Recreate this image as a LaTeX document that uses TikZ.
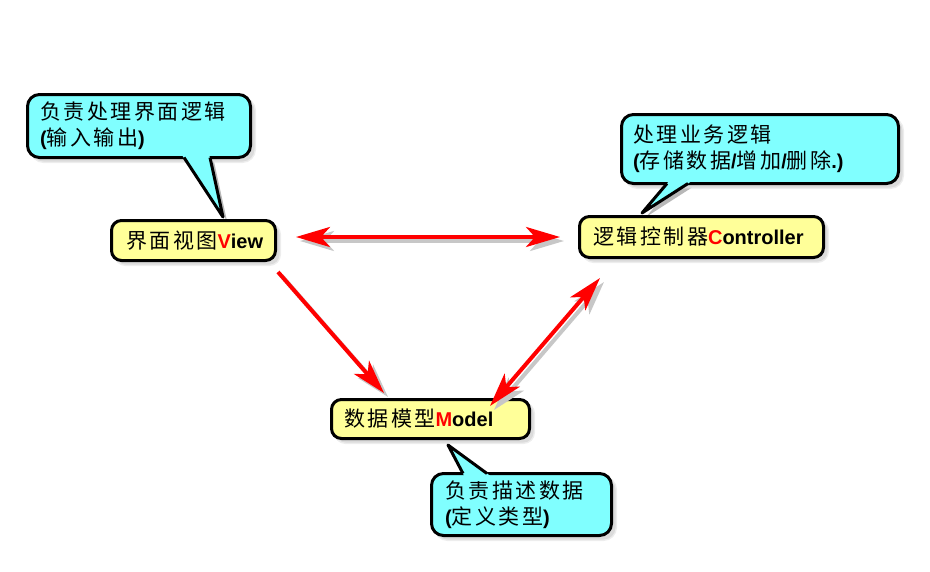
\documentclass[tikz,border=0pt]{standalone}
\usepackage{fontspec}
\setmainfont{Liberation Sans Bold}
\newfontfamily\cjk{Noto Sans CJK SC}[LetterSpace=12,Scale=1.05]
\usetikzlibrary{arrows.meta,shadows,calc}
\definecolor{boxyellow}{RGB}{255,255,153}
\definecolor{notecyan}{RGB}{128,255,255}
\definecolor{linkred}{RGB}{255,0,0}

\begin{document}
\begin{tikzpicture}[x=1pt,y=-1pt,
  >={Stealth[length=34pt,width=20pt,inset=9pt]},
  txt/.style={font=\fontsize{20}{26}\selectfont},
  softshadow/.style={drop shadow={shadow xshift=4pt,shadow yshift=-4pt,fill=black!28,draw=black!14,line width=3pt}},
  mvcbox/.style={draw=black,line width=3pt,rounded corners=10pt,fill=boxyellow,softshadow,inner ysep=0pt,align=left,txt},
  note/.style={draw=black,line width=3pt,rounded corners=12pt,fill=notecyan,softshadow,inner ysep=0pt,align=left,txt},
  tailfill/.style={fill=notecyan},
  tailedge/.style={draw=black,line width=3pt,line join=round},
  tailshadow/.style={fill=black!28},
  link/.style={draw=linkred,line width=4pt},
  linkshadow/.style={draw=black!22,line width=4pt,transform canvas={xshift=4pt,yshift=-4pt}}]

\useasboundingbox (0,0) rectangle (930,571);

% shadows of the callout tails
\fill[tailshadow,shift={(4,4)}] (184,157.5) -- (223,217) -- (210,157.5) -- cycle;
\fill[tailshadow,shift={(4,4)}] (667,183.5) -- (642,213) -- (688,183.5) -- cycle;
\fill[tailshadow,shift={(4,4)}] (463,473.5) -- (448,445) -- (487,473.5) -- cycle;

% callouts
\node[note,minimum width=223pt,minimum height=63pt,text width=198pt,inner xsep=12.5pt] (noteV) at (139,126)
  {{\cjk 负责处理界面逻辑}\\({\cjk 输入输出})};
\node[note,minimum width=277pt,minimum height=69pt,text width=254pt,inner xsep=11.5pt] (noteC) at (760,149)
  {{\cjk 处理业务逻辑}\\({\cjk 存储数据}/{\cjk 增加}/{\cjk 删除}.)};
\node[note,minimum width=180pt,minimum height=62pt,text width=153pt,inner xsep=13.5pt] (noteM) at (521.5,504.5)
  {{\cjk 负责描述数据}\\({\cjk 定义类型})};

% the three MVC parts
\node[mvcbox,minimum width=164pt,minimum height=40pt,text width=135pt,inner xsep=14.5pt] (view) at (193.5,240.5)
  {{\cjk 界面视图}\textcolor{linkred}{V}iew};
\node[mvcbox,minimum width=244pt,minimum height=41pt,text width=217pt,inner xsep=13.5pt] (ctrl) at (701.5,237)
  {{\cjk 逻辑控制器}\textcolor{linkred}{C}ontroller};
\node[mvcbox,minimum width=198pt,minimum height=39pt,text width=173pt,inner xsep=12.5pt] (model) at (430.5,419)
  {{\cjk 数据模型}\textcolor{linkred}{M}odel};

% callout tails
\coordinate (tipV) at (223,217);
\coordinate (tipC) at (642,213);
\coordinate (tipM) at (448,445);
\fill[tailfill] (178.7,150) -- (tipV) -- (208.2,150) -- cycle;
\draw[tailedge] (184,157.5) -- (tipV) -- (210,157.5);
\fill[tailfill] (673.4,176) -- (tipC) -- (699.7,176) -- cycle;
\draw[tailedge] (667,183.5) -- (tipC) -- (688,183.5);
\fill[tailfill] (466.9,481) -- (tipM) -- (497.3,481) -- cycle;
\draw[tailedge] (463,473.5) -- (tipM) -- (487,473.5);

% connectors with their shadows
\draw[linkshadow,<->] ([xshift=19pt,yshift=3.5pt]view.east) -- ([xshift=-18pt]ctrl.west);
\draw[linkshadow,->] ([xshift=1pt,yshift=-10pt]view.south east) -- ([xshift=-46.5pt,yshift=5pt]model.north);
\draw[linkshadow,<->] ([xshift=-41pt,yshift=-8pt]model.north east) -- ([xshift=22pt,yshift=-19pt]ctrl.south west);

\draw[link,<->] ([xshift=19pt,yshift=3.5pt]view.east) -- ([xshift=-18pt]ctrl.west);
\draw[link,->] ([xshift=1pt,yshift=-10pt]view.south east) -- ([xshift=-46.5pt,yshift=5pt]model.north);
\draw[link,<->] ([xshift=-41pt,yshift=-8pt]model.north east) -- ([xshift=22pt,yshift=-19pt]ctrl.south west);
\end{tikzpicture}
\end{document}
